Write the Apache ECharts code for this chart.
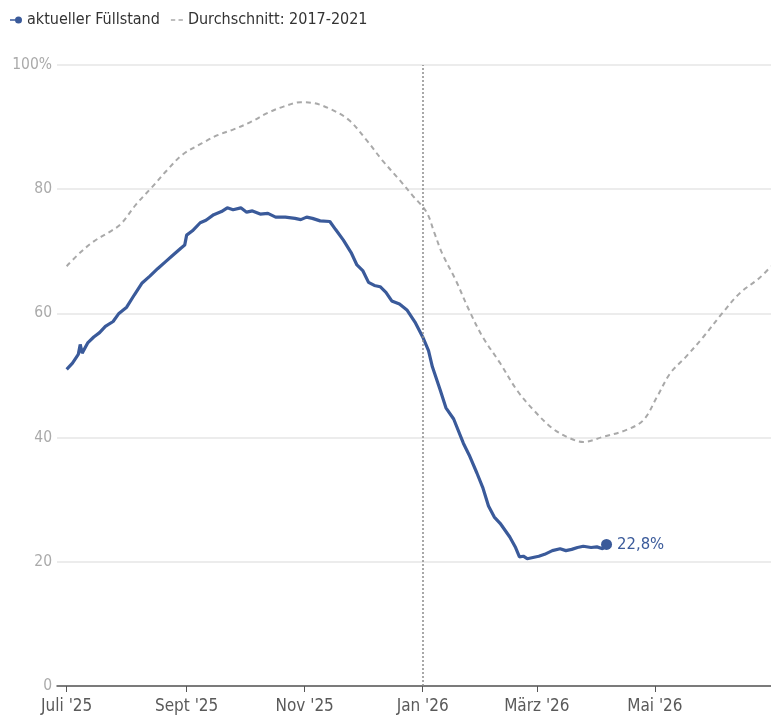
<!DOCTYPE html>
<html>
<head>
<meta charset="utf-8">
<style>
  html, body { margin: 0; padding: 0; background: #fff; }
  #chart { width: 771px; height: 728px; }
</style>
<script src="https://cdn.jsdelivr.net/npm/echarts@6/dist/echarts.min.js"></script>
</head>
<body>
<div id="chart"></div>
<script>
// Aktueller Füllstand (Prozent)
const currentDates = [
  '2025-07-01','2025-07-04','2025-07-07','2025-07-08','2025-07-09','2025-07-12','2025-07-15','2025-07-18',
  '2025-07-21','2025-07-25','2025-07-28','2025-08-01','2025-08-05','2025-08-09','2025-08-13','2025-08-17',
  '2025-08-21','2025-08-25','2025-08-29','2025-08-31','2025-09-01','2025-09-04','2025-09-08','2025-09-11',
  '2025-09-15','2025-09-19','2025-09-22','2025-09-25','2025-09-29','2025-10-02','2025-10-05','2025-10-09',
  '2025-10-13','2025-10-17','2025-10-22','2025-10-27','2025-10-30','2025-11-02','2025-11-05','2025-11-09',
  '2025-11-14','2025-11-17','2025-11-21','2025-11-25','2025-11-28','2025-12-01','2025-12-04','2025-12-07',
  '2025-12-10','2025-12-13','2025-12-16','2025-12-20','2025-12-24','2025-12-28','2026-01-01','2026-01-04',
  '2026-01-06','2026-01-10','2026-01-13','2026-01-17','2026-01-22','2026-01-25','2026-01-29','2026-02-01',
  '2026-02-04','2026-02-07','2026-02-10','2026-02-15','2026-02-18','2026-02-20','2026-02-22','2026-02-24',
  '2026-02-27','2026-03-02','2026-03-05','2026-03-09','2026-03-13','2026-03-16','2026-03-19','2026-03-22',
  '2026-03-25','2026-03-29','2026-04-01','2026-04-04','2026-04-06'
];
const currentValues = [
  51.0, 52.0, 53.4, 55.0, 53.6, 55.3, 56.2, 56.9,
  57.9, 58.7, 60.0, 61.0, 63.0, 64.9, 66.0, 67.2,
  68.3, 69.4, 70.5, 71.0, 72.6, 73.3, 74.6, 75.0,
  75.9, 76.4, 77.0, 76.7, 77.0, 76.3, 76.5, 76.0,
  76.1, 75.5, 75.5, 75.3, 75.1, 75.5, 75.3, 74.9,
  74.8, 73.5, 71.8, 69.8, 67.8, 66.9, 65.0, 64.5,
  64.3, 63.4, 62.0, 61.5, 60.5, 58.6, 56.2, 54.0,
  51.4, 47.7, 44.8, 43.0, 39.1, 37.2, 34.3, 32.0,
  29.0, 27.2, 26.2, 24.0, 22.3, 20.8, 20.9, 20.5,
  20.7, 20.9, 21.2, 21.8, 22.1, 21.8, 22.0, 22.3,
  22.5, 22.3, 22.4, 22.1, 22.8
];

// Durchschnitt 2017-2021 (Prozent)
const averageDates = [
  '2025-07-01','2025-07-08','2025-07-15','2025-07-23','2025-07-29','2025-08-06','2025-08-14','2025-08-22',
  '2025-08-30','2025-09-09','2025-09-17','2025-09-25','2025-10-04','2025-10-13','2025-10-21','2025-10-30',
  '2025-11-05','2025-11-15','2025-11-24','2025-12-03','2025-12-11','2025-12-20','2025-12-27','2026-01-03',
  '2026-01-07','2026-01-11','2026-01-18','2026-01-25','2026-02-01','2026-02-10','2026-02-19','2026-02-28',
  '2026-03-09','2026-03-18','2026-03-25','2026-04-04','2026-04-16','2026-04-25','2026-05-02','2026-05-09',
  '2026-05-17','2026-05-26','2026-06-05','2026-06-14','2026-06-24','2026-06-30'
];
const averageValues = [
  67.6, 69.8, 71.6, 73.1, 74.4, 77.6, 80.3, 83.1,
  85.6, 87.4, 88.7, 89.6, 90.8, 92.3, 93.3, 94.0,
  93.9, 92.8, 91.1, 87.9, 84.7, 81.5, 78.9, 76.3,
  73.0, 69.7, 65.4, 60.5, 56.2, 52.0, 47.5, 44.2,
  41.5, 39.9, 39.3, 40.1, 41.2, 42.8, 46.5, 50.4,
  53.0, 56.2, 60.1, 63.3, 65.7, 67.6
];

// Achsenbeschriftungen
const xTickDates = ['2025-07-01','2025-09-01','2025-11-01','2026-01-01','2026-03-01','2026-05-01'];
const xTickLabels = ["Juli '25", "Sept '25", "Nov '25", "Jan '26", "März '26", "Mai '26"];
const yTicks = [0, 20, 40, 60, 80, 100];
const yTickLabels = ['0', '20', '40', '60', '80', '100%'];
const markerDate = '2026-01-01';
const xRange = ['2025-06-26', '2026-06-30'];

const seriesNames = ['aktueller Füllstand', 'Durchschnitt: 2017-2021'];

const FONT = "'Liberation Sans Narrow', 'DejaVu Sans Condensed', 'Roboto', sans-serif";
const BLUE = '#3a5a9a';
const GREY = '#a9a9a9';

// dates as UTC timestamps on a numeric axis
const toTime = s => Date.parse(s + 'T00:00:00Z');
const tickTimes = xTickDates.map(toTime);

const currentData = currentDates.map((d, i) => [toTime(d), currentValues[i]]);
const averageData = averageDates.map((d, i) => [toTime(d), averageValues[i]]);
const lastPoint = currentData[currentData.length - 1];

const chart = echarts.init(document.getElementById('chart'), null, { renderer: 'canvas' });

chart.setOption({
  animation: false,
  backgroundColor: '#ffffff',
  textStyle: { fontFamily: FONT },
  legend: {
    left: 5,
    top: 7,
    itemGap: 11,
    itemWidth: 12,
    itemHeight: 8,
    textStyle: { fontFamily: FONT, fontSize: 16, color: '#333' },
    data: [
      {
        name: seriesNames[0],
        icon: 'path://M0,3.3h6v1.4h-6z M8.5,0.5a3.5,3.5 0 1,1 0,7a3.5,3.5 0 1,1 0,-7z',
        itemStyle: { color: BLUE }
      },
      {
        name: seriesNames[1],
        icon: 'path://M0,3.2h4v1.6h-4z M7,3.2h4v1.6h-4z',
        itemStyle: { color: GREY }
      }
    ]
  },
  grid: { left: 57, right: 0, top: 65, bottom: 42, containLabel: false },
  xAxis: {
    type: 'value',
    min: toTime(xRange[0]),
    max: toTime(xRange[1]),
    axisLine: { show: true, onZero: false, lineStyle: { color: '#555', width: 1.5 } },
    axisTick: {
      show: true,
      customValues: tickTimes,
      length: 6,
      lineStyle: { color: '#555', width: 1 }
    },
    axisLabel: {
      customValues: tickTimes,
      formatter: v => {
        const i = tickTimes.indexOf(v);
        return i >= 0 ? xTickLabels[i] : '';
      },
      color: '#5a5a5a',
      fontSize: 17,
      fontFamily: FONT,
      margin: 12
    },
    splitLine: { show: false }
  },
  yAxis: {
    type: 'value',
    min: 0,
    max: 100,
    interval: 20,
    axisLine: { show: false },
    axisTick: { show: false },
    axisLabel: {
      formatter: v => {
        const i = yTicks.indexOf(v);
        return i >= 0 ? yTickLabels[i] : '';
      },
      color: '#aaa',
      fontSize: 15.5,
      fontFamily: FONT,
      margin: 5
    },
    splitLine: { show: true, lineStyle: { color: '#e6e6e6', width: 1.5 } }
  },
  series: [
    {
      name: seriesNames[1],
      type: 'line',
      data: averageData,
      smooth: 0.35,
      symbol: 'none',
      z: 2,
      lineStyle: { color: GREY, width: 2, type: [5, 4] },
      itemStyle: { color: GREY },
      markLine: {
        silent: true,
        symbol: 'none',
        label: { show: false },
        lineStyle: { color: '#8c8c8c', width: 1.5, type: [2, 2] },
        data: [{ xAxis: toTime(markerDate) }]
      }
    },
    {
      name: seriesNames[0],
      type: 'line',
      data: currentData,
      symbol: 'none',
      z: 3,
      lineStyle: { color: BLUE, width: 3.2 },
      itemStyle: { color: BLUE }
    },
    {
      name: seriesNames[0],
      type: 'scatter',
      data: [lastPoint],
      symbol: 'circle',
      symbolSize: 11,
      z: 4,
      itemStyle: { color: BLUE, opacity: 1 },
      label: {
        show: true,
        position: 'right',
        distance: 5,
        color: BLUE,
        fontSize: 16.5,
        fontFamily: FONT,
        formatter: p => p.value[1].toFixed(1).replace('.', ',') + '%'
      }
    }
  ]
});
</script>
</body>
</html>
